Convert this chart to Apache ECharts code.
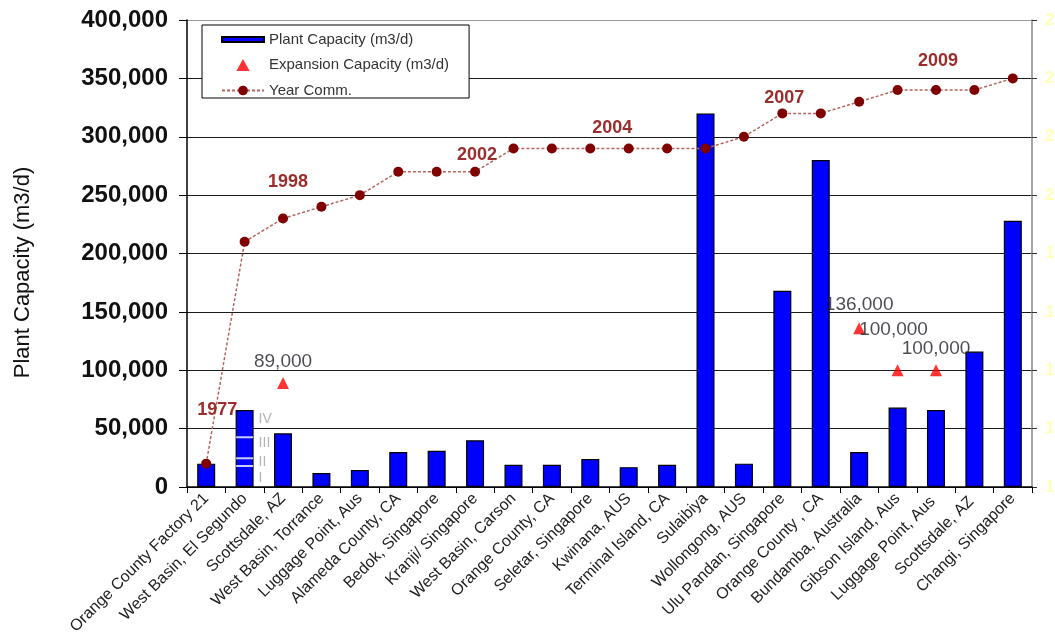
<!DOCTYPE html>
<html><head><meta charset="utf-8">
<script src="https://cdn.jsdelivr.net/npm/echarts@6/dist/echarts.min.js"></script>
<style>html,body{margin:0;padding:0;background:#fff}#c{width:1055px;height:636px}</style>
</head><body><div id="c"></div>
<script>
// ---- data ----
const categories = [
  'Orange County Factory 21', 'West Basin, El Segundo', 'Scottsdale, AZ', 'West Basin, Torrance',
  'Luggage Point, Aus', 'Alameda County, CA', 'Bedok, Singapore', 'Kranji/ Singapore',
  'West Basin, Carson', 'Orange County, CA', 'Seletar, Singapore', 'Kwinana, AUS',
  'Terminal Island, CA', 'Sulaibiya', 'Wollongong, AUS', 'Ulu Pandan, Singapore',
  'Orange County , CA', 'Bundamba, Australia', 'Gibson Island, Aus', 'Luggage Point, Aus ',
  'Scottsdale, AZ ', 'Changi, Singapore'
];
const plantCapacity = [20000, 66000, 46000, 12000, 14500, 30000, 31000, 40000, 19000, 19000, 24000, 17000,
  19000, 320000, 20000, 168000, 280000, 30000, 68000, 66000, 116000, 228000];
const expansionCapacity = [null, null, 89000, null, null, null, null, null, null, null, null, null,
  null, null, null, null, null, 136000, 100000, 100000, null, null];
const yearCommissioned = [1977, 1996, 1998, 1999, 2000, 2002, 2002, 2002, 2004, 2004, 2004, 2004,
  2004, 2004, 2005, 2007, 2007, 2008, 2009, 2009, 2009, 2010];
const labelledYearIndex = [0, 2, 7, 10, 15, 19];
const stageBoundaries = [18000, 24600, 42600];
const stageNames = ['I', 'II', 'III', 'IV'];
const stageLabelValues = [7700, 21700, 37700, 58000];
const stagePlantIndex = 1;
const capacityAxis = { min: 0, max: 400000, interval: 50000 };
const yearAxis = { min: 1975, max: 2015, interval: 5 };

// ---- styles (label offsets) ----
const yearLabelOffsets = { 0: [11, -34.5], 2: [5, -17.5], 7: [2, 2.5], 10: [22, -1.5], 15: [2, 3.5], 19: [2, -10.5] };
const expansionLabelOffsets = { 2: [0, 0], 17: [0, -2], 18: [-4, -19], 19: [0, 0] };

const fmt = v => Number(v).toLocaleString('en-US');
const FONT = 'Arial, "Liberation Sans", sans-serif';

const lineData = yearCommissioned.map((v, i) =>
  labelledYearIndex.includes(i) ? { value: v, label: { show: true, offset: yearLabelOffsets[i] } } : v);
const expData = expansionCapacity.map((v, i) =>
  v == null ? '-' : { value: v, label: { show: true, offset: expansionLabelOffsets[i] || [0, 0] } });

const splitColors = [];
for (let v = capacityAxis.min; v <= capacityAxis.max; v += capacityAxis.interval) {
  splitColors.push(v === capacityAxis.max ? '#9a9a9a' : '#1a1a1a');
}

const chart = echarts.init(document.getElementById('c'), null, { renderer: 'canvas' });
chart.setOption({
  animation: false,
  backgroundColor: '#fff',
  grid: { left: 187, right: 23, top: 20, bottom: 149, containLabel: false, outerBoundsMode: 'none' },
  legend: {
    orient: 'vertical', left: 202, top: 25,
    padding: [7, 20, 0, 19], itemGap: 10.5, itemWidth: 42, itemHeight: 12,
    symbolKeepAspect: true,
    borderColor: '#000', borderWidth: 1, backgroundColor: '#fff',
    textStyle: { fontSize: 15, fontFamily: FONT, color: '#333' },
    data: [
      { name: 'Plant Capacity (m3/d)', icon: 'path://M0,0h42v5h-42z' },
      { name: 'Expansion Capacity (m3/d)', icon: 'path://M5,0L10,9L0,9Z' },
      { name: 'Year Comm.' }
    ]
  },
  xAxis: {
    type: 'category', data: categories,
    axisLine: { lineStyle: { color: '#000', width: 1.5 } },
    axisTick: { show: true, length: 6, lineStyle: { color: '#000' } },
    axisLabel: { rotate: 45, interval: 0, fontSize: 16, fontFamily: FONT, color: '#222', margin: 9 },
    splitLine: { show: false }
  },
  yAxis: [
    {
      type: 'value', min: capacityAxis.min, max: capacityAxis.max, interval: capacityAxis.interval,
      position: 'left',
      axisLine: { show: true, lineStyle: { color: '#000', width: 1.5 } },
      axisTick: { show: true, length: 8, lineStyle: { color: '#000' } },
      axisLabel: { fontSize: 24, fontWeight: 'bold', color: '#111', fontFamily: FONT, margin: 19, formatter: fmt },
      splitLine: { show: true, lineStyle: { color: splitColors, width: 1.2 } },
      name: 'Plant Capacity (m3/d)', nameLocation: 'middle', nameGap: 153, nameRotate: 90,
      nameTextStyle: { fontSize: 22, fontFamily: FONT, color: '#111', padding: [0, 38, 0, 0] }
    },
    {
      type: 'value', min: yearAxis.min, max: yearAxis.max, interval: yearAxis.interval,
      position: 'right',
      axisLine: { show: true, lineStyle: { color: '#888', width: 1.5 } },
      axisTick: { show: true, length: 5, lineStyle: { color: '#333' } },
      axisLabel: { color: '#ffffb8', fontSize: 17, fontWeight: 'bold', fontFamily: FONT, margin: 13 },
      splitLine: { show: false }
    }
  ],
  series: [
    {
      name: 'Plant Capacity (m3/d)', type: 'bar', data: plantCapacity, barWidth: 18, z: 2,
      itemStyle: { color: '#0000ff', borderColor: '#000', borderWidth: 1.2 }
    },
    {
      name: 'stage-lines', type: 'scatter', silent: true, z: 3,
      data: stageBoundaries.map(v => [categories[stagePlantIndex], v]),
      symbol: 'rect', symbolSize: [17, 2], itemStyle: { color: '#fff' }
    },
    {
      name: 'stage-labels', type: 'scatter', silent: true, z: 3,
      data: stageLabelValues.map((v, i) => [categories[stagePlantIndex], v, stageNames[i]]),
      symbolSize: 0,
      label: { show: true, position: 'right', distance: 14, formatter: p => p.data[2],
        fontSize: 14, fontFamily: FONT, color: '#a0a0a8' }
    },
    {
      name: 'Year Comm.', type: 'line', yAxisIndex: 1, data: lineData, z: 4,
      symbol: 'circle', symbolSize: 10, showSymbol: true, showAllSymbol: true,
      lineStyle: { color: '#b5655f', width: 1.5, type: [3, 2] },
      itemStyle: { color: '#800000' },
      label: { show: false, position: 'top', distance: 5, formatter: '{c}',
        color: '#9b2d2d', fontWeight: 'bold', fontSize: 18, fontFamily: FONT }
    },
    {
      name: 'Expansion Capacity (m3/d)', type: 'scatter', data: expData, z: 5,
      symbol: 'triangle', symbolSize: 12, symbolKeepAspect: true, itemStyle: { color: '#ff0000' },
      label: { show: false, position: 'top', distance: 6, formatter: p => fmt(p.value),
        fontSize: 19, fontFamily: FONT, color: '#1e1e28' }
    }
  ]
});
</script></body></html>
